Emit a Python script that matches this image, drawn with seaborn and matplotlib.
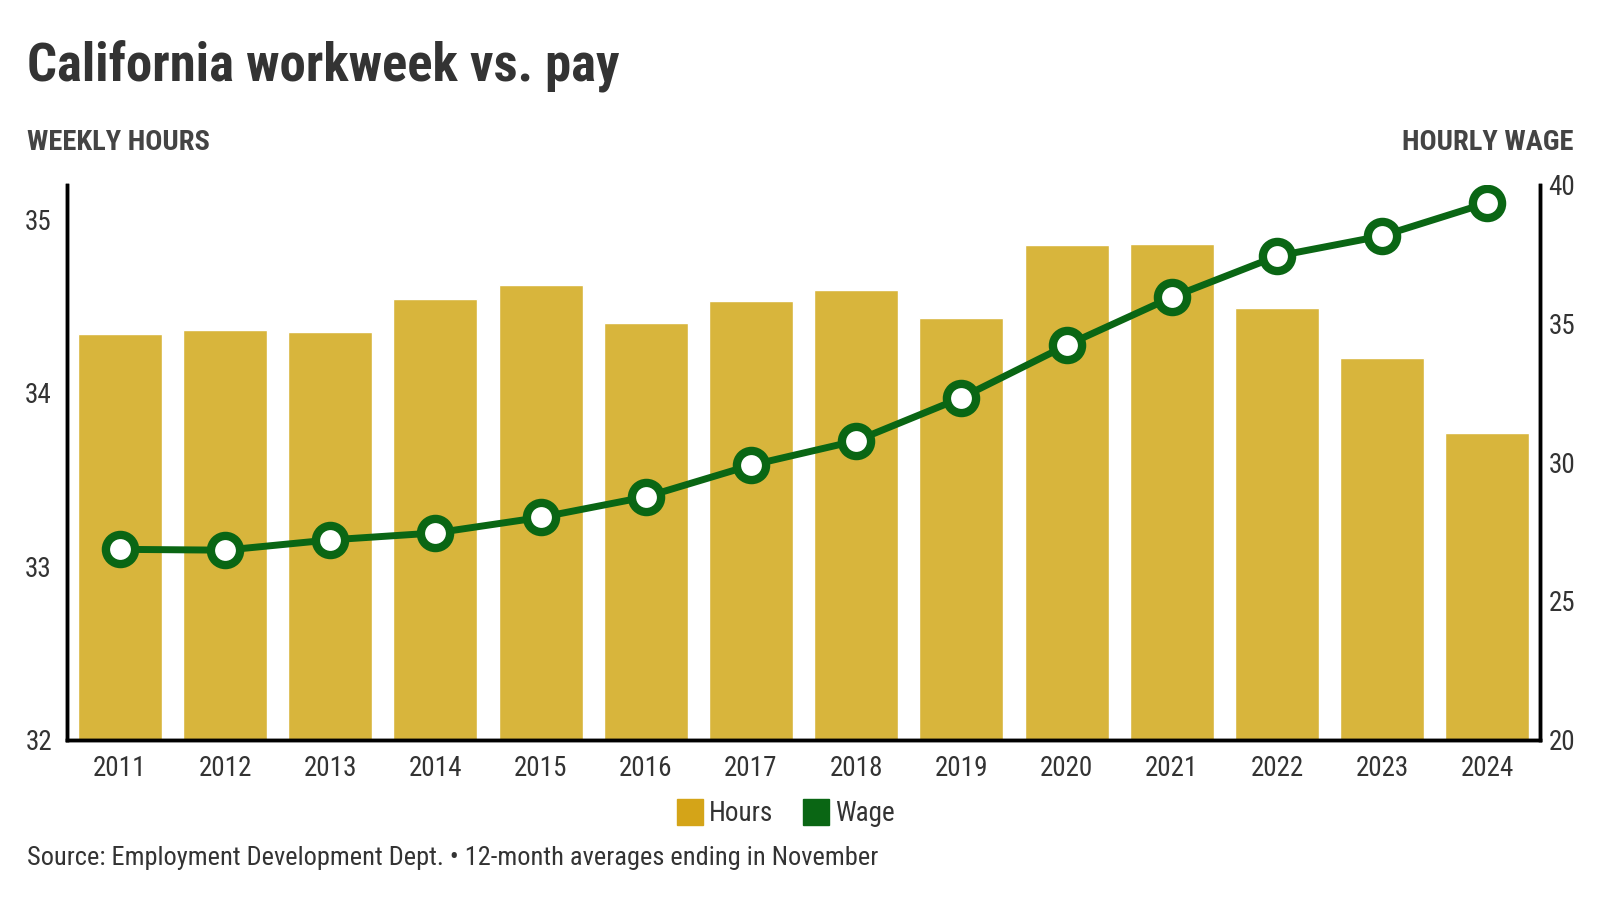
import numpy as np
import pandas as pd
import seaborn as sns
import matplotlib.pyplot as plt
from matplotlib.lines import Line2D

# data
years = ['2011', '2012', '2013', '2014', '2015', '2016', '2017',
         '2018', '2019', '2020', '2021', '2022', '2023', '2024']
hours = [34.34, 34.36, 34.35, 34.54, 34.62, 34.40, 34.53,
         34.59, 34.43, 34.85, 34.86, 34.49, 34.20, 33.77]
wage = [26.86, 26.83, 27.20, 27.45, 28.01, 28.75, 29.89,
        30.77, 32.32, 34.21, 35.94, 37.42, 38.15, 39.34]
hours_ticks = [32, 33, 34, 35]
wage_ticks = [20, 25, 30, 35, 40]

bar_color = '#D8B53C'
legend_gold = '#D4A418'
green = '#0A6614'
text_color = '#333333'

df = pd.DataFrame({'year': years, 'hours': hours, 'wage': wage})
df['pos'] = np.arange(len(df))

sns.set_theme(style='white')
plt.rcParams['font.family'] = ['Roboto Condensed', 'Roboto', 'DejaVu Sans']
plt.rcParams['text.color'] = text_color

fig = plt.figure(figsize=(16, 9), dpi=100)
ax = fig.add_axes([0.042, 0.178, 0.9205, 0.617])

sns.barplot(data=df, x='year', y='hours', color=bar_color, saturation=1,
            width=0.8, ax=ax)
ax.set_ylim(32, 35.2)
ax.set_xlim(-0.5, 13.5)
ax.set_yticks(hours_ticks)
ax.set_xlabel('')
ax.set_ylabel('')

# wage line on the right-hand axis
ax2 = ax.twinx()
sns.lineplot(data=df, x='pos', y='wage', color=green, linewidth=5,
             marker='o', markersize=21, markerfacecolor='white',
             markeredgecolor=green, markeredgewidth=6, ax=ax2, zorder=5)
ax2.set_ylim(20, 40)
ax2.set_yticks(wage_ticks)
ax2.set_xlim(-0.5, 13.5)
ax2.set_xlabel('')
ax2.set_ylabel('')

for a in (ax, ax2):
    a.spines['top'].set_visible(False)
    for s in ('left', 'right', 'bottom'):
        a.spines[s].set_color('black')
        a.spines[s].set_linewidth(2.5)
    a.tick_params(length=0, labelsize=19.5, labelcolor=text_color)
ax.tick_params(axis='y', pad=11)
ax.tick_params(axis='x', pad=11)
ax2.tick_params(axis='y', pad=6)

fig.text(0.017, 0.911, 'California workweek vs. pay', fontsize=38,
         fontweight='bold', color=text_color, va='baseline')
fig.text(0.017, 0.833, 'WEEKLY HOURS', fontsize=20.5, fontweight='bold',
         color='#444444', va='baseline')
fig.text(0.9835, 0.833, 'HOURLY WAGE', fontsize=20.5, fontweight='bold',
         color='#444444', va='baseline', ha='right')
fig.text(0.017, 0.039, 'Source: Employment Development Dept. \u2022 12-month averages ending in November',
         fontsize=19, color=text_color, va='baseline')

handles = [Line2D([], [], marker='s', linestyle='', markersize=19,
                  markerfacecolor=legend_gold, markeredgecolor=legend_gold),
           Line2D([], [], marker='s', linestyle='', markersize=19,
                  markerfacecolor=green, markeredgecolor=green)]
fig.legend(handles, ['Hours', 'Wage'], loc='center', bbox_to_anchor=(0.49, 0.096),
           ncol=2, frameon=False, fontsize=19.5, handletextpad=0.1,
           columnspacing=1.0, handlelength=1.2)

fig.savefig('out.png', dpi=100)
